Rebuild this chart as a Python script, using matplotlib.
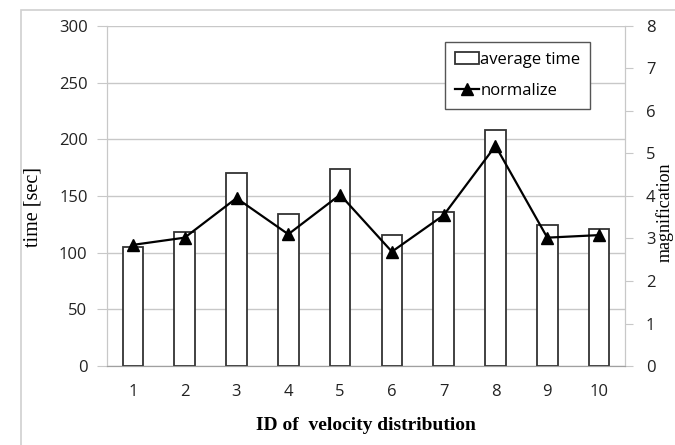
import matplotlib
matplotlib.use("Agg")
import matplotlib.pyplot as plt
from matplotlib.patches import Rectangle

# data
ids = [1, 2, 3, 4, 5, 6, 7, 8, 9, 10]
avg_time = [105, 118, 170, 134, 174, 116, 136, 208, 124, 121]
normalize = [2.85, 3.02, 3.95, 3.1, 4.03, 2.69, 3.55, 5.18, 3.02, 3.08]

tick_font = "Open Sans"
label_font = "Liberation Serif"

fig = plt.figure(figsize=(6.75, 4.45), dpi=100)

# light outer frame of the chart area (cut by the image edge)
fig.patches.append(Rectangle((21 / 675, -0.1), 1.2, (445 - 10) / 445 + 0.1,
                             transform=fig.transFigure, fill=False,
                             edgecolor="#d0d0d0", linewidth=1.2))

ax = fig.add_axes([107 / 675, 79 / 445, 518 / 675, 340 / 445])
ax2 = ax.twinx()

bars = ax.bar(ids, avg_time, width=0.4, facecolor="white",
              edgecolor="#333333", linewidth=1.3, zorder=3,
              label="average time")
line, = ax2.plot(ids, normalize, color="black", linewidth=1.6,
                 marker="^", markersize=8, label="normalize", zorder=4)

ax.set_xlim(0.5, 10.5)
ax.set_ylim(0, 300)
ax.set_yticks(range(0, 301, 50))
ax2.set_ylim(0, 8)
ax2.set_yticks(range(0, 9))
ax.set_xticks(ids)

ax.grid(axis="y", color="#c8c8c8", linewidth=1, zorder=0)
ax.set_axisbelow(True)

for a in (ax, ax2):
    a.spines["top"].set_visible(False)
    a.spines["left"].set_color("#c8c8c8")
    a.spines["right"].set_color("#c8c8c8")
    a.spines["bottom"].set_color("#a0a0a0")

ax.tick_params(axis="y", length=7, color="#c8c8c8", pad=7, labelsize=12)
ax.tick_params(axis="x", length=0, pad=13, labelsize=12)
ax2.tick_params(axis="y", length=6, color="#c8c8c8", pad=9, labelsize=12)
for lab in ax.get_xticklabels() + ax.get_yticklabels() + ax2.get_yticklabels():
    lab.set_fontfamily(tick_font)
    lab.set_color("#222222")

fig.text(33 / 675, 1 - 207 / 445, "time [sec]", rotation=90, ha="center",
         va="center", fontsize=14.5, family=label_font)
# the reference cuts this label at the image edge; keep it just inside
fig.text(674 / 675, 1 - 212 / 445, "magnification", rotation=90, ha="right",
         va="center", fontsize=13, family=label_font)
fig.text(366 / 675, 1 - 425 / 445, "ID of  velocity distribution",
         ha="center", va="center", fontsize=14, family=label_font,
         fontweight="bold")

leg = ax2.legend([bars, line], ["average time", "normalize"],
                 loc="upper left", bbox_to_anchor=(0.653, 0.953),
                 frameon=True, fancybox=False, framealpha=1,
                 edgecolor="#555555", prop={"family": tick_font, "size": 12},
                 labelspacing=0.9, handlelength=1.4, handletextpad=0.1,
                 borderpad=0.6, borderaxespad=0)
leg.get_frame().set_linewidth(1.0)

fig.savefig("out.png", dpi=100)
